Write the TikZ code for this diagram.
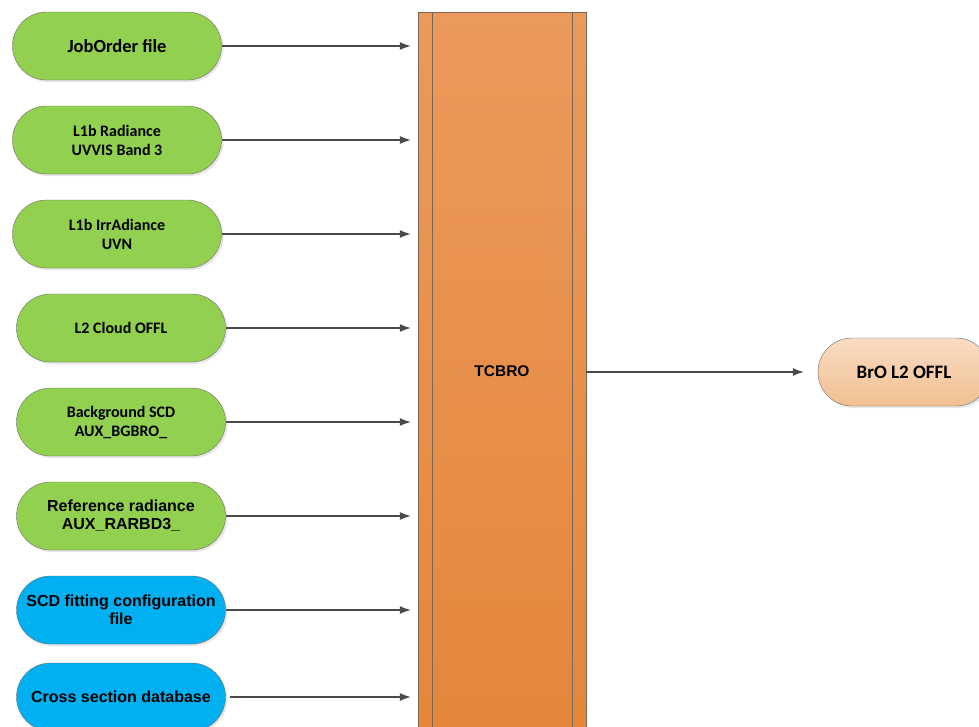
\documentclass[tikz,border=0pt]{standalone}
\usepackage{fontspec}
\setmainfont{Carlito}
\newfontfamily\arialfont{Liberation Sans}
\usepackage{tikz}
\usetikzlibrary{arrows.meta}
\usetikzlibrary{shapes.misc}
\usetikzlibrary{shadows}
\tikzset{>={Latex[length=11pt,width=8pt]}}
\definecolor{input green}{HTML}{92D050}
\definecolor{input blue}{HTML}{00B0F0}
\definecolor{edge gray}{HTML}{6E6E6E}
\definecolor{arrow gray}{HTML}{4A4A4A}
\definecolor{proc top}{HTML}{EA9A5C}
\definecolor{proc bottom}{HTML}{E5863A}
\definecolor{proc edge}{HTML}{7A6656}
\definecolor{out top}{HTML}{F9DCC4}
\definecolor{out bottom}{HTML}{F1C090}
\tikzset{
    pill/.style={rounded rectangle, draw=edge gray, minimum width=211pt, minimum height=68pt,
        inner sep=1pt, align=center, drop shadow={shadow xshift=2pt, shadow yshift=-2pt, opacity=0.2}},
    calibri/.style={font=\bfseries\fontsize{16}{19}\selectfont},
    arial/.style={font=\arialfont\bfseries\fontsize{16}{18}\selectfont},
    flow/.style={->, draw=arrow gray, line width=1.1pt, shorten >=7pt}
}

\begin{document}
\begin{tikzpicture}[x=1pt, y=-1pt]
        \useasboundingbox (0,0) rectangle (979,726);
        \clip (0,0) rectangle (979,726);
        % processor
        \node[shade, top color=proc top, bottom color=proc bottom, draw=proc edge, minimum width=168pt, minimum height=718pt,
            font=\arialfont\bfseries\fontsize{15.5}{18}\selectfont] (tcbro) at (502, 371) {TCBRO};
        \draw[proc edge] (tcbro.north west) ++(14pt, 0) -- ++(0, -718pt);
        \draw[proc edge] (tcbro.north east) ++(-14pt, 0) -- ++(0, -718pt);
        % inputs
        \node[pill, fill=input green, font=\bfseries\fontsize{18.5}{21}\selectfont] (job) at (117, 46) {JobOrder file};
        \node[pill, fill=input green, calibri] (radiance) at (117, 140) {L1b Radiance\\UVVIS Band 3};
        \node[pill, fill=input green, calibri] (irradiance) at (117, 234) {L1b IrrAdiance\\UVN};
        \node[pill, fill=input green, calibri] (cloud) at (121, 328) {L2 Cloud OFFL};
        \node[pill, fill=input green, calibri] (background) at (121, 422) {Background SCD\\AUX\_BGBRO\_};
        \node[pill, fill=input green, arial] (reference) at (121, 516) {Reference radiance\\AUX\_RARBD3\_};
        \node[pill, fill=input blue, arial] (scdconf) at (121, 610) {SCD fitting configuration\\file};
        \node[pill, fill=input blue, arial] (xsection) at (121, 697) {Cross section database};
        % output
        \node[pill, minimum width=174pt, shade, top color=out top, bottom color=out bottom,
            font=\bfseries\fontsize{19}{22}\selectfont] (bro) at (904, 372) {BrO L2 OFFL};
        % connectors
        \foreach \n in {job, radiance, irradiance, cloud, background, reference, scdconf} {
            \draw[flow] (\n.east) -- (\n.east -| tcbro.west);
        }
        \draw[flow, shorten <=4pt] (xsection.east) -- (xsection.east -| tcbro.west);
        \draw[flow, shorten >=14pt] (bro.west -| tcbro.east) -- (bro.west);
    \end{tikzpicture}
\end{document}
